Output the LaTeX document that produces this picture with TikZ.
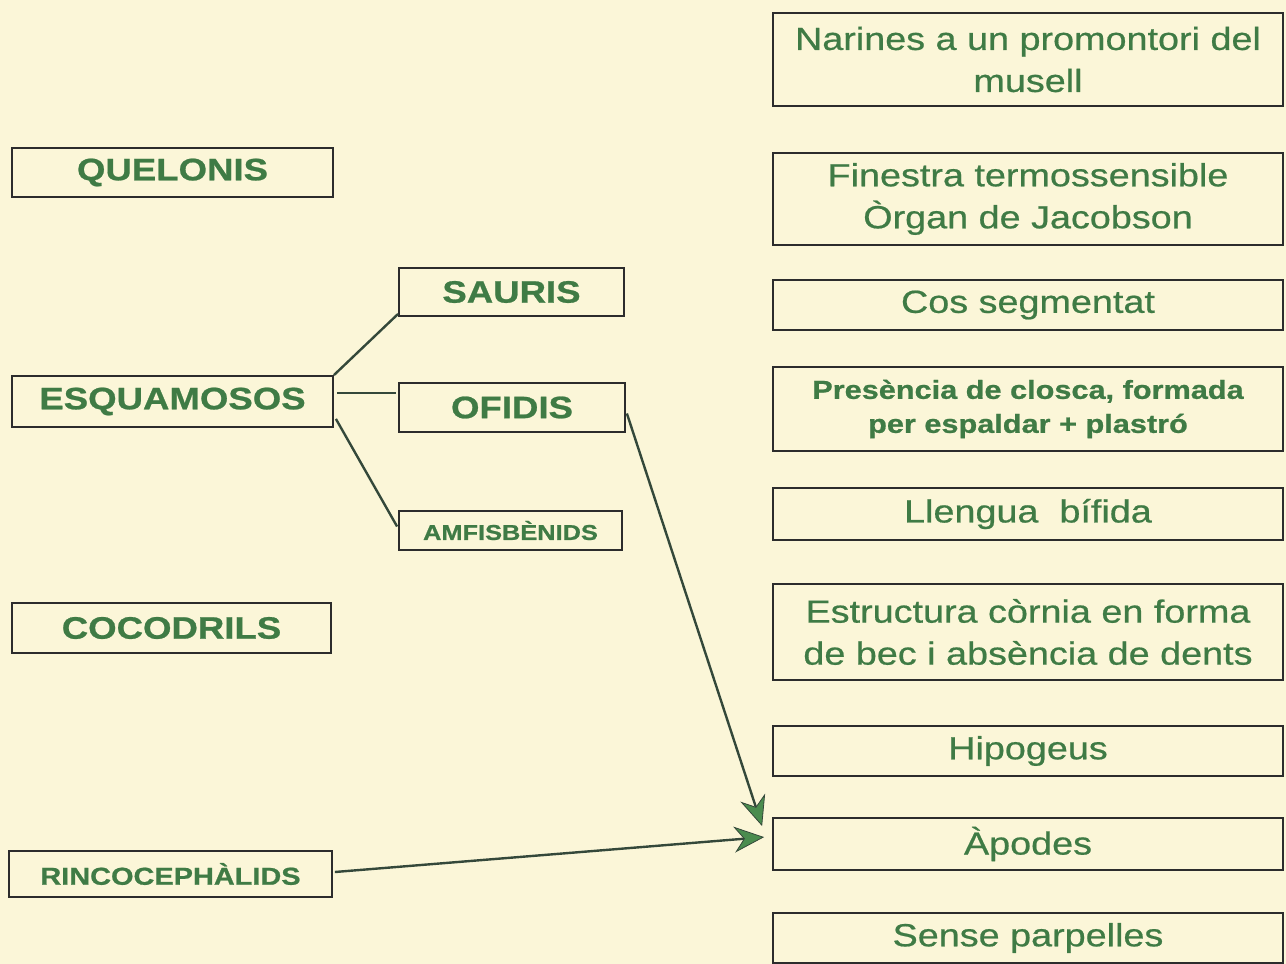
\documentclass[tikz,border=0pt]{standalone}
\usepackage{fontspec}
\setmainfont{Liberation Sans}[FakeStretch=1.18]
\newfontfamily\regfont{Liberation Sans}[FakeStretch=1.18, FakeBold=0.6]
\newfontfamily\boldfont{Liberation Sans Bold}[FakeStretch=1.18, FakeBold=0.8]
\usetikzlibrary{arrows.meta}
\definecolor{bg}{HTML}{FBF6D8}
\definecolor{txt}{HTML}{3F7B45}
\definecolor{head}{HTML}{4A8C4E}
\definecolor{edge}{HTML}{2C2C2C}
\definecolor{conn}{HTML}{34483A}
\tikzset{
  box/.style={draw=edge, line width=1.8pt, rectangle, inner sep=0pt, text=txt, align=center},
  lbig/.style={box, font=\fontsize{31}{34}\boldfont},
  rtxt/.style={box, minimum width=510pt, font=\fontsize{32}{42}\regfont},
  link/.style={draw=conn, line width=2.4pt},
  arr/.style={link, -{Stealth[length=30pt,width=26pt,fill=head,line width=0.8pt]}}
}
\begin{document}
\begin{tikzpicture}[x=1pt,y=-1pt]
\fill[bg] (0,0) rectangle (1286,964);
\useasboundingbox (0,0) rectangle (1286,964);
% left column
\node[lbig, minimum width=321pt, minimum height=49pt] (que) at (172.5,172.5) {QUELONIS};
\node[lbig, minimum width=321pt, minimum height=51pt] (esq) at (172.5,401.5) {ESQUAMOSOS};
\node[lbig, minimum width=319pt, minimum height=50pt] (coc) at (171.5,628) {COCODRILS};
\node[box, font=\fontsize{24.5}{28}\boldfont, minimum width=323pt, minimum height=46pt] (rin) at (170.5,874) {RINCOCEPHÀLIDS};
% middle column
\node[lbig, minimum width=225pt, minimum height=48pt] (sau) at (511.5,292) {SAURIS};
\node[lbig, minimum width=226pt, minimum height=49pt] (ofi) at (512,407.5) {OFIDIS};
\node[box, font=\fontsize{21.5}{24}\boldfont, minimum width=223pt, minimum height=39pt] (amf) at (510.5,530.5) {AMFISBÈNIDS};
% right column
\node[rtxt, minimum height=93pt] (nar) at (1028,59.5) {Narines a un promontori del\\musell};
\node[rtxt, minimum height=92pt] (fin) at (1028,199) {Finestra termossensible\\Òrgan de Jacobson};
\node[rtxt, minimum height=50pt] (cos) at (1028,305) {Cos segmentat};
\node[rtxt, minimum height=84pt, font=\fontsize{26}{34}\boldfont] (pre) at (1028,409) {Presència de closca, formada\\per espaldar + plastró};
\node[rtxt, minimum height=52pt] (lle) at (1028,514) {Llengua~~bífida};
\node[rtxt, minimum height=96pt] (est) at (1028,632) {Estructura còrnia en forma\\de bec i absència de dents};
\node[rtxt, minimum height=50pt] (hip) at (1028,751) {Hipogeus};
\node[rtxt, minimum height=52pt] (apo) at (1028,844) {Àpodes};
\node[rtxt, minimum height=50pt] (sen) at (1028,938) {Sense parpelles};
% connectors
\draw[link] (esq.north east) -- ([yshift=3pt]sau.south west);
\coordinate (m) at ([xshift=3pt,yshift=8.5pt]esq.east);
\draw[link] (m) -- ([xshift=-2pt]m -| ofi.west);
\draw[link] ([xshift=2pt,yshift=9pt]esq.south east) -- ([xshift=-1pt,yshift=4pt]amf.west);
\coordinate (t1) at ([xshift=-10pt,yshift=-9pt]apo.north west);
\coordinate (t2) at ([xshift=-8pt,yshift=-20pt]apo.north west);
\draw[arr] ([xshift=1pt,yshift=-6pt]ofi.east) -- (t1);
\draw[arr] ([xshift=2pt,yshift=2pt]rin.east) -- (t2);
\end{tikzpicture}
\end{document}
